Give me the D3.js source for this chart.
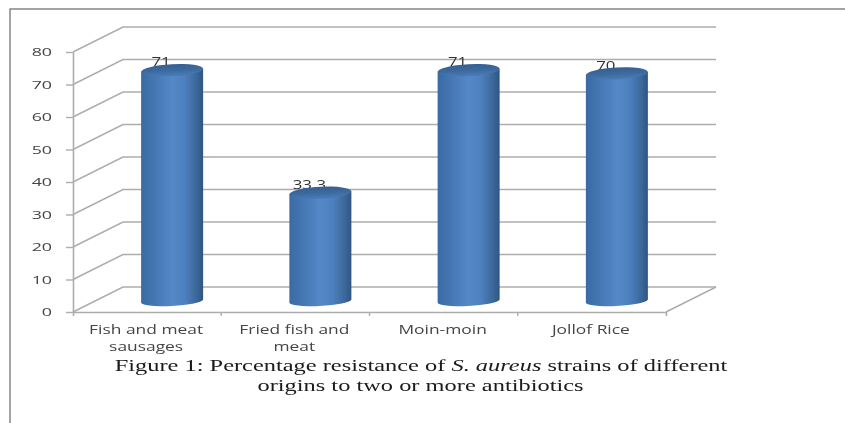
<!DOCTYPE html>
<html>
<head>
<meta charset="utf-8">
<script src="https://cdn.jsdelivr.net/npm/d3@7"></script>
<style>
  html, body { margin: 0; padding: 0; background: #fff; }
  svg { display: block; }
</style>
</head>
<body>
<div id="myChart"></div>
<script>
// values
const categories = ["Fish and meat sausages", "Fried fish and meat", "Moin-moin", "Jollof Rice"];
const categoryLines = [["Fish and meat", "sausages"], ["Fried fish and", "meat"], ["Moin-moin"], ["Jollof Rice"]];
const resistance = [71, 33.3, 71, 70];
const valueLabels = ["71", "33.3", "71", "70"];
const yTicks = [0, 10, 20, 30, 40, 50, 60, 70, 80];

const width = 845, height = 423;
const plot = { left: 73, right: 666, top: 52, bottom: 312 };
const depth = { x: 50, y: -25 }; // offset of the back wall
const barWidth = 62, barRy = 6, barLift = 11, tilt = -3, tiltDrop = 1.5;
const gridColor = "#adadad", textColor = "#444";

const svg = d3.select("#myChart").append("svg")
  .attr("width", width).attr("height", height)
  .attr("viewBox", [0, 0, width, height]);

const defs = svg.append("defs");
const soft = defs.append("filter").attr("id", "soft");
soft.append("feGaussianBlur").attr("stdDeviation", 0.5);

const sideGrad = defs.append("linearGradient").attr("id", "barSide");
[[0, "#3a6aa3"], [0.5, "#5488c8"], [0.7, "#4e80bf"], [0.9, "#3a6798"], [1, "#2f5583"]]
  .forEach((s) => sideGrad.append("stop").attr("offset", s[0]).attr("stop-color", s[1]));

// top of the cylinder fades into the side
const topGrad = defs.append("linearGradient").attr("id", "barTop")
  .attr("x1", 0).attr("x2", 0).attr("y1", 0).attr("y2", 1);
[[0, "#365f90"], [0.55, "#3d6b9f"], [1, "#4a7cb8"]]
  .forEach((s) => topGrad.append("stop").attr("offset", s[0]).attr("stop-color", s[1]));

const root = svg.append("g").attr("filter", "url(#soft)");

// outer frame, only top and left are visible in the source
root.append("path")
  .attr("d", d3.line()([[10, height + 5], [10, 9], [width + 5, 9]]))
  .attr("fill", "none").attr("stroke", "#868686").attr("stroke-width", 1.5);

const x = d3.scaleBand().domain(categories).range([plot.left, plot.right]);
const y = d3.scaleLinear().domain([0, 80]).range([plot.bottom, plot.top]);

// walls: diagonal + back line per tick
const grid = root.append("g").attr("fill", "none").attr("stroke", gridColor).attr("stroke-width", 1.5);
grid.selectAll("path").data(yTicks).enter().append("path")
  .attr("d", (d) => d3.line()([
    [plot.left, y(d)],
    [plot.left + depth.x, y(d) + depth.y],
    [plot.right + depth.x, y(d) + depth.y]
  ]));
grid.append("path").attr("d", d3.line()([
  [plot.right, plot.bottom],
  [plot.right + depth.x, plot.bottom + depth.y]
]));

// axes
const yAxis = root.append("g").attr("transform", `translate(${plot.left},0)`)
  .call(d3.axisLeft(y).tickValues(yTicks).tickSize(7).tickSizeOuter(0).tickPadding(0));
const xAxis = root.append("g").attr("transform", `translate(0,${plot.bottom})`)
  .call(d3.axisBottom(x).tickSize(0).tickSizeOuter(4).tickFormat(""));
root.selectAll(".domain").attr("stroke", gridColor).attr("stroke-width", 1.6);
yAxis.selectAll("line").attr("stroke", gridColor).attr("stroke-width", 1.4);

// band separators on the category axis
xAxis.selectAll(".sep").data(categories.slice(1)).enter().append("line")
  .attr("class", "sep").attr("stroke", gridColor).attr("stroke-width", 1.4)
  .attr("x1", (d) => x(d)).attr("x2", (d) => x(d)).attr("y1", 0).attr("y2", 4);

yAxis.selectAll("text")
  .attr("font-family", "'Open Sans'").attr("font-size", 11.5).attr("fill", textColor)
  .attr("text-anchor", "end").attr("dy", "0.34em")
  .attr("transform", "translate(-21,0) scale(1.55,1)")
  .attr("x", 0);

const catText = root.append("g").attr("font-family", "'Open Sans'").attr("font-size", 12)
  .attr("fill", textColor).attr("text-anchor", "middle");
categories.forEach((c, i) => {
  categoryLines[i].forEach((line, j) => {
    catText.append("text")
      .attr("transform", `translate(${x(c) + x.bandwidth() / 2 - 1},${plot.bottom + 22 + j * 16.5}) scale(1.45,1)`)
      .text(line);
  });
});

// value labels go first, the bar tops overlap them
root.append("g").selectAll("text").data(resistance).enter().append("text")
  .attr("font-family", "'Open Sans'").attr("font-size", 12.5).attr("fill", "#333")
  .attr("text-anchor", "middle")
  .attr("transform", (d, i) => {
    const cx = x(categories[i]) + x.bandwidth() / 2 + depth.x / 2 - 11;
    return `translate(${cx},${y(d) - barLift - 4}) scale(1.35,1)`;
  })
  .text((d, i) => valueLabels[i]);

// cylinders
const bars = root.append("g").selectAll("g").data(resistance).enter().append("g")
  .attr("transform", (d, i) => `translate(${x(categories[i]) + x.bandwidth() / 2 + depth.x / 2},0)`);

const rx = barWidth / 2;
bars.append("path")
  .attr("fill", "url(#barSide)")
  .attr("d", (d) => {
    const top = y(d) - barLift, base = y(0) - barLift;
    return `M${-rx},${top + tiltDrop} L${-rx},${base + tiltDrop} A${rx},${barRy - 1} ${tilt} 0 0 ${rx},${base - tiltDrop} L${rx},${top - tiltDrop} Z`;
  });
bars.append("ellipse")
  .attr("rx", rx).attr("ry", barRy)
  .attr("transform", (d) => `translate(0,${y(d) - barLift}) rotate(${tilt})`)
  .attr("fill", "url(#barTop)");

// caption
const caption = root.append("g").attr("font-family", "'Liberation Serif'").attr("font-size", 16.5)
  .attr("fill", "#1a1a1a").attr("text-anchor", "middle");
const line1 = caption.append("text").attr("transform", "translate(421,371) scale(1.48,1)");
line1.append("tspan").text("Figure 1: Percentage resistance of ");
line1.append("tspan").attr("font-style", "italic").text("S. aureus");
line1.append("tspan").text(" strains of different");
caption.append("text").attr("transform", "translate(420.5,391) scale(1.48,1)")
  .text("origins to two or more antibiotics");
</script>
</body>
</html>
